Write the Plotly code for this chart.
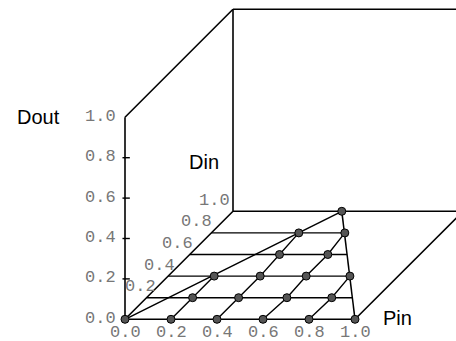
import plotly.graph_objects as go

# ---- data ----
pin_ticks = [0.0, 0.2, 0.4, 0.6, 0.8, 1.0]
din_ticks = [0.0, 0.2, 0.4, 0.6, 0.8, 1.0]
dout_ticks = [0.0, 0.2, 0.4, 0.6, 0.8, 1.0]
tick_labels = ["0.0", "0.2", "0.4", "0.6", "0.8", "1.0"]

# sample points on the floor (Dout = 0): Pin / Din values
dot_pin = [0.0, 0.2, 0.4, 0.6, 0.8, 1.0,
           0.20, 0.40, 0.61, 0.805,
           0.20, 0.40, 0.60, 0.79,
           0.39, 0.60,
           0.38, 0.58,
           0.473]
dot_din = [0.0, 0.0, 0.0, 0.0, 0.0, 0.0,
           0.2, 0.2, 0.2, 0.2,
           0.4, 0.4, 0.4, 0.4,
           0.6, 0.6,
           0.8, 0.8,
           1.0]
dot_dout = [0.0] * len(dot_pin)

# constant-Pin grid lines (indices into the dot lists)
pin_lines = [[1, 6, 10], [2, 7, 11, 14, 16], [3, 8, 12, 15, 17], [4, 9, 13]]
# triangle boundary: origin, Pin=1 corner, apex
tri_apex = 18
tri_origin = 0
tri_right = 5
floor_rows = [0.2, 0.4, 0.6, 0.8]

# ---- oblique projection ----
KD = 108 / 230   # depth shift per unit of Din
KH = 202 / 230   # height per unit of Dout


def proj(p, d, o):
    return p + KD * d, KH * o + KD * d


def seg_trace(segs, width=1.6, color="black"):
    xs, ys = [], []
    for seg in segs:
        for (p, d, o) in seg:
            X, Y = proj(p, d, o)
            xs.append(X)
            ys.append(Y)
        xs.append(None)
        ys.append(None)
    return go.Scatter(x=xs, y=ys, mode="lines", line=dict(color=color, width=width),
                      hoverinfo="skip", showlegend=False)


fig = go.Figure()

# box edges (left wall, back wall, floor)
box = [
    [(0, 0, 0), (1, 0, 0)],      # Pin axis
    [(0, 0, 0), (0, 0, 1)],      # Dout axis
    [(0, 0, 0), (0, 1, 0)],      # Din axis
    [(0, 0, 1), (0, 1, 1)],      # left wall top
    [(0, 1, 0), (0, 1, 1)],      # back wall left
    [(0, 1, 1), (1, 1, 1)],      # back wall top
    [(0, 1, 0), (1, 1, 0)],      # floor back
    [(1, 0, 0), (1, 1, 0)],      # floor right
    [(1, 1, 0), (1, 1, 1)],      # back wall right
]
fig.add_trace(seg_trace(box, width=1.6))

# Dout tick crosses
ticks = [[(-0.011, 0, v), (0.021, 0, v)] for v in dout_ticks[1:-1]]
fig.add_trace(seg_trace(ticks, width=1.4))

# floor grid: rows of constant Din up to the right boundary
apx = dot_pin[tri_apex]
rows = []
for d in floor_rows:
    right = dot_pin[tri_right] + (apx - dot_pin[tri_right]) * d / dot_din[tri_apex]
    rows.append([(0, d, 0), (right, d, 0)])
fig.add_trace(seg_trace(rows, width=1.4))

# triangle boundary lines
tri = [[(dot_pin[tri_origin], dot_din[tri_origin], 0), (apx, dot_din[tri_apex], 0)],
       [(dot_pin[tri_right], dot_din[tri_right], 0), (apx, dot_din[tri_apex], 0)]]
fig.add_trace(seg_trace(tri, width=1.5))

# constant-Pin lines through dots
cols = [[(dot_pin[i], dot_din[i], dot_dout[i]) for i in line] for line in pin_lines]
fig.add_trace(seg_trace(cols, width=1.4))

# dots
dx, dy = zip(*[proj(p, d, o) for p, d, o in zip(dot_pin, dot_din, dot_dout)])
fig.add_trace(go.Scatter(x=list(dx), y=list(dy), mode="markers",
                         marker=dict(size=8, color="#555555",
                                     line=dict(color="black", width=1)),
                         hoverinfo="skip", showlegend=False))

mono = dict(family="Liberation Mono", size=17, color="#777777")
sans = dict(family="Liberation Sans", size=20, color="black")
ann = []
# Pin tick labels
for v, t in zip(pin_ticks, tick_labels):
    X, Y = proj(v, 0, 0)
    ann.append(dict(x=X, y=Y, text=t, showarrow=False, font=mono,
                    xanchor="center", yanchor="middle", yshift=-13,
                    height=15, valign="middle"))
# Dout tick labels
for v, t in zip(dout_ticks, tick_labels):
    X, Y = proj(0, 0, v)
    ann.append(dict(x=X, y=Y, text=t, showarrow=False, font=mono,
                    xanchor="right", yanchor="middle", xshift=-7, yshift=1))
# Din tick labels
for v, t in zip(din_ticks[1:], tick_labels[1:]):
    X, Y = proj(0, v, 0)
    ann.append(dict(x=X, y=Y, text=t, showarrow=False, font=mono,
                    xanchor="center", yanchor="middle",
                    xshift=-6 - 15.5 * (v - 0.2), yshift=11))
# axis titles
X, Y = proj(0, 0, 1)
ann.append(dict(x=X, y=Y, text="Dout", showarrow=False, font=sans,
                xanchor="center", yanchor="middle", xshift=-87, yshift=0))
X, Y = proj(0, 1, 0)
ann.append(dict(x=X, y=Y, text="Din", showarrow=False, font=sans,
                xanchor="center", yanchor="middle", xshift=-29, yshift=49))
X, Y = proj(1, 0, 0)
ann.append(dict(x=X, y=Y, text="Pin", showarrow=False, font=sans,
                xanchor="center", yanchor="middle", xshift=42, yshift=1))

fig.update_layout(
    width=456, height=341,
    margin=dict(l=0, r=0, t=0, b=0),
    paper_bgcolor="white", plot_bgcolor="white",
    xaxis=dict(range=[-125 / 230, 331 / 230], visible=False, fixedrange=True),
    yaxis=dict(range=[-21.7 / 230, 319.3 / 230], visible=False, fixedrange=True),
    annotations=ann,
    showlegend=False,
)

fig.write_html("out.html", config=dict(displayModeBar=False),
               post_script="document.body.style.margin='0px';")
